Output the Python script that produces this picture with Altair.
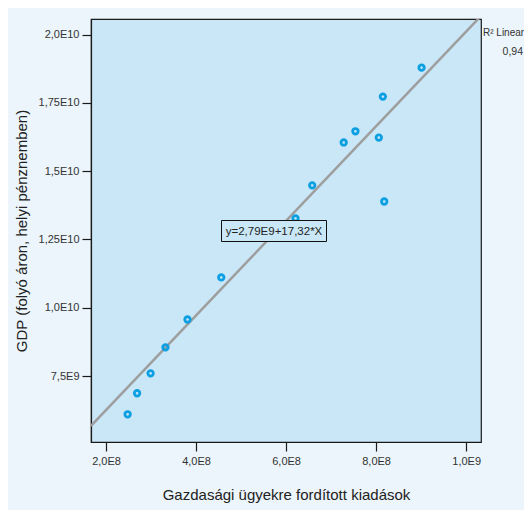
import altair as alt
import pandas as pd

# ---- data ----
expenditure = [2.48e8, 2.69e8, 2.99e8, 3.32e8, 3.81e8, 4.56e8, 6.21e8, 6.58e8,
               7.28e8, 7.54e8, 8.06e8, 8.15e8, 8.18e8, 9.01e8]
gdp = [6.10e9, 6.87e9, 7.60e9, 8.55e9, 9.57e9, 1.111e10, 1.327e10, 1.448e10,
       1.605e10, 1.646e10, 1.623e10, 1.773e10, 1.389e10, 1.879e10]

intercept = 2.79e9
slope = 17.32
eq_label = "y=2,79E9+17,32*X"
r2_title = "R\u00b2 Linear"
r2_value = "0,94"

x_domain = [1.666e8, 1.033e9]
y_domain = [5.086e9, 2.057e10]

x_ticks = [2e8, 4e8, 6e8, 8e8, 1e9]
x_tick_labels = ["2,0E8", "4,0E8", "6,0E8", "8,0E8", "1,0E9"]
y_ticks = [7.5e9, 1.0e10, 1.25e10, 1.5e10, 1.75e10, 2.0e10]
y_tick_labels = ["7,5E9", "1,0E10", "1,25E10", "1,5E10", "1,75E10", "2,0E10"]

x_title = "Gazdasági ügyekre fordított kiadások"
y_title = "GDP (folyó áron, helyi pénznemben)"

# ---- styling ----
FONT = "Liberation Sans, Arial, sans-serif"
OUTER_BG = "#EBF5FB"
PLOT_BG = "#C9E7F7"
POINT_COLOR = "#0C9FE2"
LINE_COLOR = "#9E9E9E"

W, H = 390, 423


def label_expr(vals, labels):
    v = ",".join(repr(float(x)) for x in vals)
    l = ",".join("'" + s + "'" for s in labels)
    return f"[{l}][indexof([{v}], datum.value)]"


pts = pd.DataFrame({"x": expenditure, "y": gdp})
fit = pd.DataFrame({"x": x_domain,
                    "y": [intercept + slope * v for v in x_domain]})

xs = alt.Scale(domain=x_domain, nice=False, zero=False)
ys = alt.Scale(domain=y_domain, nice=False, zero=False)

x_axis = alt.Axis(values=x_ticks, labelExpr=label_expr(x_ticks, x_tick_labels),
                  title=x_title, grid=False, tickSize=9, labelPadding=4,
                  titlePadding=21)
y_axis = alt.Axis(values=y_ticks, labelExpr=label_expr(y_ticks, y_tick_labels),
                  title=y_title, grid=False, tickSize=9, labelPadding=3,
                  titlePadding=9)

line = alt.Chart(fit).mark_line(color=LINE_COLOR, strokeWidth=2.5, clip=True).encode(
    x=alt.X("x:Q", scale=xs, axis=x_axis),
    y=alt.Y("y:Q", scale=ys, axis=y_axis),
)

points = alt.Chart(pts).mark_point(shape="circle", filled=False, size=30,
                                   strokeWidth=2.8, color=POINT_COLOR,
                                   opacity=1).encode(
    x=alt.X("x:Q", scale=xs),
    y=alt.Y("y:Q", scale=ys),
)

ann = pd.DataFrame({"t": [eq_label]})
box = alt.Chart(ann).mark_rect(fill=PLOT_BG, stroke="#111111", strokeWidth=1).encode(
    x=alt.value(130.5), x2=alt.value(235.5), y=alt.value(201.5), y2=alt.value(222.5)
)
box_text = alt.Chart(ann).mark_text(font=FONT, fontSize=11.5, color="#222222",
                                    align="center", baseline="middle").encode(
    x=alt.value(183), y=alt.value(212.5), text="t:N"
)

leg = pd.DataFrame({"t": [r2_title], "v": [r2_value]})
leg1 = alt.Chart(leg).mark_text(font=FONT, fontSize=10, color="#333333",
                                align="left", baseline="middle", clip=False).encode(
    x=alt.value(392), y=alt.value(14), text="t:N"
)
leg2 = alt.Chart(leg).mark_text(font=FONT, fontSize=10.5, color="#333333",
                                align="right", baseline="middle", clip=False).encode(
    x=alt.value(432), y=alt.value(33), text="v:N"
)

chart = alt.layer(line, points, box, box_text, leg1, leg2).properties(
    width=W, height=H,
    background=OUTER_BG,
    padding={"left": 83, "top": 11, "right": 43, "bottom": 68},
    autosize=alt.AutoSizeParams(type="none"),
).configure_view(
    fill=PLOT_BG, stroke="#1a1a1a", strokeWidth=1.2
).configure_axis(
    domainColor="#1a1a1a", tickColor="#1a1a1a", domainWidth=1.2, tickWidth=1.2,
    labelFont=FONT, labelFontSize=11, labelColor="#333333",
    titleFont=FONT, titleFontSize=15, titleFontWeight="normal",
    titleColor="#222222",
)

chart.save("out.html", embed_options={"renderer": "svg", "actions": False})
